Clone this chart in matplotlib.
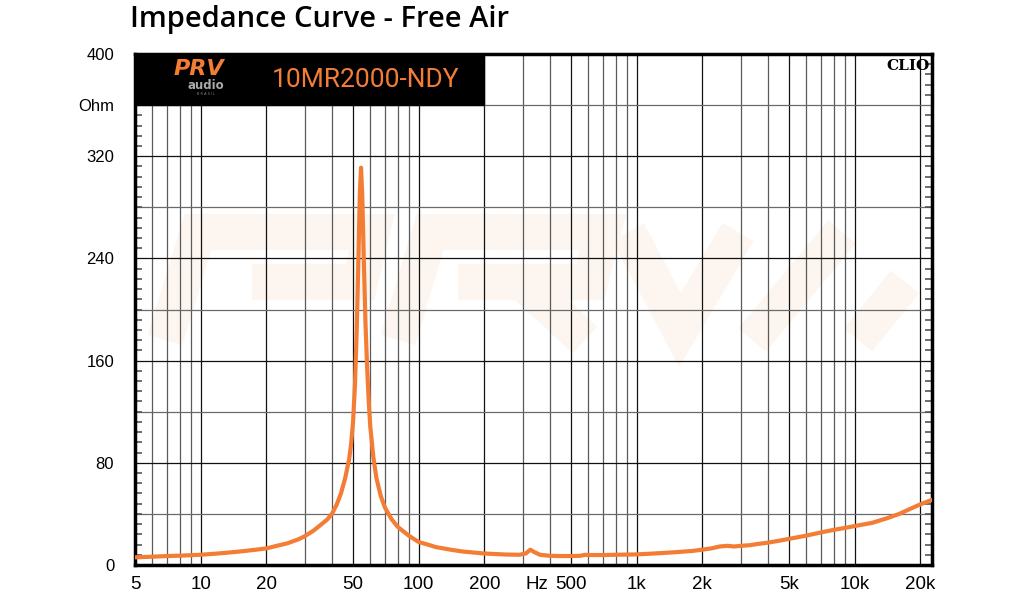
import matplotlib
matplotlib.use("Agg")
import matplotlib.pyplot as plt
from matplotlib.patches import Rectangle
import numpy as np

# ---- data ----
freq_hz = [5, 6, 7, 8, 10, 12, 15, 18, 20, 25, 28, 30, 33, 35, 38, 40, 42, 44, 46, 48,
           49, 50, 51, 52, 53, 53.7, 54.4, 55.1, 56, 57, 58, 59, 60, 62, 64, 67, 70, 75,
           80, 90, 100, 110, 120, 140, 160, 200, 250, 290, 310, 325, 340, 360, 400, 450,
           500, 550, 580, 600, 700, 800, 1000, 1200, 1500, 1800, 2000, 2200, 2400, 2600,
           2800, 3000, 3300, 3600, 4000, 4500, 5000, 6000, 7000, 8000, 9000, 10000,
           12000, 14000, 16000, 18000, 20000, 22600]
impedance_ohm = [6.0, 6.5, 7.0, 7.3, 8.0, 9.0, 10.5, 12.0, 13.0, 17.0, 20.0, 22.5, 27.0,
                 30.5, 35.5, 40.0, 47.0, 56.0, 68.0, 83.0, 95.0, 112.0, 140.0, 185.0,
                 245.0, 290.0, 311.0, 290.0, 240.0, 190.0, 155.0, 128.0, 108.0, 84.0,
                 68.0, 54.0, 45.0, 36.0, 30.0, 23.0, 18.0, 16.0, 14.0, 12.0, 10.5, 9.0,
                 8.2, 8.0, 9.0, 12.0, 10.0, 8.0, 7.2, 7.0, 7.0, 7.2, 8.0, 7.8, 7.8, 8.0,
                 8.3, 9.0, 10.0, 11.0, 12.0, 13.0, 14.5, 15.0, 14.5, 15.0, 15.5, 16.5,
                 17.5, 19.0, 20.5, 23.0, 25.5, 27.5, 29.0, 30.5, 33.0, 36.5, 40.0, 44.0,
                 47.5, 51.0]

x_tick_vals = [5, 10, 20, 50, 100, 200, 350, 500, 1000, 2000, 5000, 10000, 20000]
x_tick_labels = ["5", "10", "20", "50", "100", "200", "Hz", "500", "1k", "2k", "5k", "10k", "20k"]
y_tick_vals = [0, 80, 160, 240, 320, 360, 400]
y_tick_labels = ["0", "80", "160", "240", "320", "Ohm", "400"]

title = "Impedance Curve - Free Air"
model = "10MR2000-NDY"

ORANGE = "#f47d36"
W, H = 1028, 600

fig = plt.figure(figsize=(10.28, 6.0), dpi=100)
ax = fig.add_axes([135/W, 1-565/H, (932-135)/W, (565-54)/H])
ax.set_xscale("log")
ax.set_xlim(5, 22600)
ax.set_ylim(0, 400)

# faint watermark logo (decoration, in figure pixel coordinates)
def px(x, y):
    return (x / W, 1 - y / H)

WM = "#fdf6f0"
strokes = [
    # P
    [(165, 340), (198, 232), (372, 232), (360, 282), (252, 282)],
    # R
    [(398, 340), (430, 232), (603, 232), (590, 282), (458, 282)],
    [(522, 282), (585, 340)],
    # V
    [(628, 232), (680, 330), (738, 232)],
    # slashes
    [(752, 340), (842, 232)],
    [(858, 340), (905, 282)],
]
for s in strokes:
    xs, ys = zip(*[px(*p) for p in s])
    fig.add_artist(plt.Line2D(xs, ys, transform=fig.transFigure, color=WM,
                              lw=26, solid_joinstyle="miter", solid_capstyle="butt",
                              zorder=-1))
ax.set_facecolor("none")

# grid
for d in [1, 10, 100, 1000, 10000]:
    for m in range(1, 10):
        f = d * m
        if 5 <= f <= 22600:
            col = "#111111" if m in (1, 2, 5) else "#5a5a5a"
            ax.axvline(f, color=col, lw=0.9, zorder=1)
for yv in range(40, 400, 40):
    col = "#111111" if yv % 80 == 0 else "#6a6a6a"
    ax.axhline(yv, color=col, lw=0.9, zorder=1)

ax.plot(freq_hz, impedance_ohm, color=ORANGE, lw=3.0, zorder=3, solid_capstyle="round")

# ticks
ax.set_xticks(x_tick_vals)
ax.set_xticklabels(x_tick_labels, family="Liberation Sans", fontsize=13.5)
ax.set_xticks([], minor=True)
ax.set_yticks(y_tick_vals)
ax.set_yticklabels(y_tick_labels, family="Liberation Sans", fontsize=12)
ax.set_yticks(np.arange(0, 401, 8), minor=True)
ax.tick_params(axis="x", length=0, pad=8)
ax.tick_params(axis="y", which="major", length=0, pad=15)
ax.tick_params(axis="y", which="minor", direction="in", length=5, width=1.2,
               color="#555555", left=True, right=True)
for s in ax.spines.values():
    s.set_linewidth(2.5)
    s.set_color("black")

# logo box
ax.add_patch(Rectangle((5, 360), 200 - 5, 40, facecolor="black", edgecolor="black",
                       zorder=4))
ax.text(9.8, 388, "PRV", fontsize=16, fontweight="heavy", fontstyle="italic",
        color=ORANGE, ha="center", va="center", zorder=5, family="DejaVu Sans")
ax.text(10.6, 375.5, "audio", fontsize=8.5, fontweight="bold", color="#aaaaaa",
        ha="center", va="center", zorder=5, family="DejaVu Sans")
ax.text(10.6, 368.5, "B R A S I L", fontsize=2.5, color="#888888",
        ha="center", va="center", zorder=5)
ax.text(57, 380, model, fontsize=19, color=ORANGE, ha="center", va="center",
        zorder=5, family="Roboto")

ax.text(0.997, 0.99, "CLIO", transform=ax.transAxes, ha="right", va="top",
        fontsize=11, fontweight="bold", family="DejaVu Serif", zorder=5)

fig.text(130/W, 1-20/H, title, fontsize=21, fontweight="semibold", ha="left",
         va="center", family="Open Sans")

fig.savefig("out.png", dpi=100)
